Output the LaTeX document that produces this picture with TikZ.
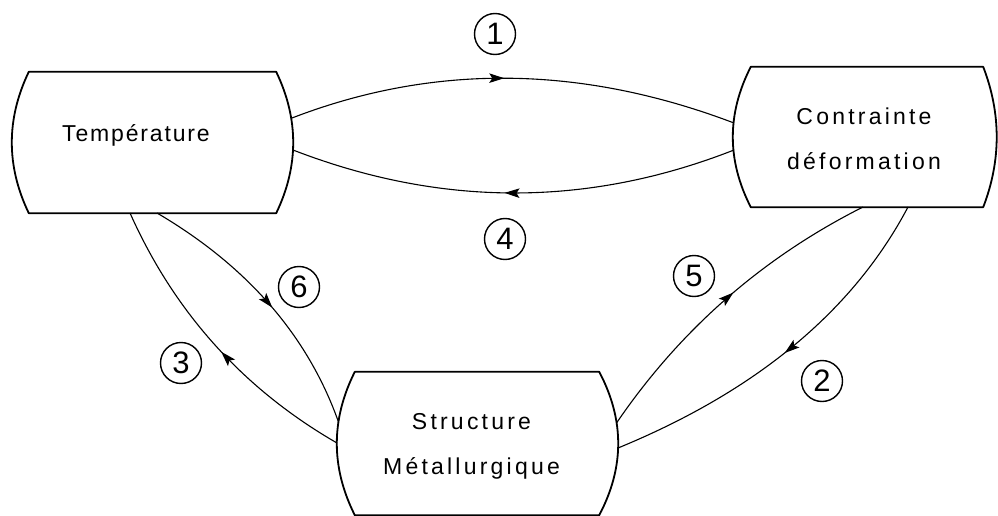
\documentclass[tikz,border=0pt]{standalone}
\usepackage{fontspec}
\setmainfont{Liberation Sans}
\newfontfamily\boxfont{Liberation Sans}[LetterSpace=14]
\newfontfamily\boxfontnarrow{Liberation Sans}[LetterSpace=8]
\usetikzlibrary{calc,arrows.meta,decorations.markings}

\tikzset{
  outline/.style={line width=1.8pt, line join=round},
  boxtext/.style={font=\boxfont\fontsize{23}{45}\selectfont, align=center, inner sep=0pt},
  flow/.style={line width=1.1pt},
  midarrow/.style={postaction={decorate}, decoration={markings,
      mark=at position #1 with {\arrow{Stealth[length=15pt,width=9.5pt,inset=3pt]}}}},
  num/.style={circle, draw, line width=1.4pt, minimum size=41pt, inner sep=0pt,
      font=\fontsize{31}{31}\selectfont},
  frame/.style={rectangle, draw=none, inner sep=0pt}
}

% box with straight top/bottom and outward-bulging sides (arc-like cubic sides)
\newcommand{\bulgeoutline}[3]{% node name, left bulge, right bulge
  \draw[outline] (#1.north west) -- (#1.north east)
    .. controls ($(#1.north east)!1/3!(#1.south east)+(4/3*#3,0)$)
           and ($(#1.north east)!2/3!(#1.south east)+(4/3*#3,0)$) .. (#1.south east)
    -- (#1.south west)
    .. controls ($(#1.south west)!1/3!(#1.north west)-(4/3*#2,0)$)
           and ($(#1.south west)!2/3!(#1.north west)-(4/3*#2,0)$) .. cycle;
}

\begin{document}
\begin{tikzpicture}[x=1pt,y=-1pt]
\useasboundingbox (0,0) rectangle (998,516);

% frames of the three boxes
\node[frame, minimum width=247pt, minimum height=141pt] (temp) at (152.5,142.5) {};
\node[frame, minimum width=232pt, minimum height=140pt] (cont) at (867,137) {};
\node[frame, minimum width=244pt, minimum height=143pt] (struct) at (477,443.5) {};

\bulgeoutline{temp}{17}{17}
\bulgeoutline{cont}{18}{13.5}
\bulgeoutline{struct}{18}{19}

% box labels
\node[boxtext, font=\boxfontnarrow\fontsize{23}{45}\selectfont, anchor=base] (ttemp) at (136,142) {Température};
\node[boxtext] (tcont) at (864,139) {Contrainte\\déformation};
\node[boxtext] (tstruct) at (471.5,446.5) {Structure\\Métallurgique};

% attachment points on the box sides
\coordinate (tR1) at (292,118);
\coordinate (tR2) at (293,150);
\coordinate (tB1) at (130,213);
\coordinate (tB2) at (157,213);
\coordinate (cL1) at (734,123);
\coordinate (cL2) at (734,150);
\coordinate (cB1) at (863,207);
\coordinate (cB2) at (908,207);
\coordinate (sL1) at (338.5,422);
\coordinate (sL2) at (337,443);
\coordinate (sR1) at (616.5,423);
\coordinate (sR2) at (618,448);

% couplings
\draw[flow, midarrow=0.48] (tR1) .. controls (434,63.3) and (581.3,65) .. (cL1);
\draw[flow, midarrow=0.52] (cL2) .. controls (588,207.3) and (441,207.3) .. (tR2);
\draw[flow, midarrow=0.47] (sL2) .. controls (243.3,389) and (174.3,312.3) .. (tB1);
\draw[flow, midarrow=0.53] (tB2) .. controls (247.3,266) and (307.8,335.7) .. (sL1);
\draw[flow, midarrow=0.53] (sR1) .. controls (680.2,329.7) and (762.3,257.7) .. (cB1);
\draw[flow, midarrow=0.5] (cB2) .. controls (853.3,310.7) and (756.7,391) .. (sR2);

% numbered labels
\node[num] (n1) at (495,34) {1};
\node[num] (n2) at (822,381) {2};
\node[num] (n3) at (181,363) {3};
\node[num] (n4) at (505,239) {4};
\node[num] (n5) at (694,276) {5};
\node[num] (n6) at (299,287) {6};
\end{tikzpicture}
\end{document}
